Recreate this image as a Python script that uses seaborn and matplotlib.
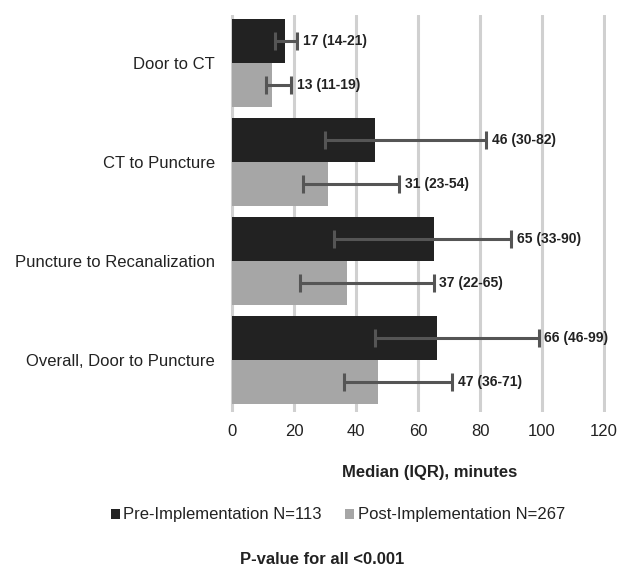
import matplotlib
matplotlib.use("Agg")
import matplotlib.pyplot as plt
import seaborn as sns
import pandas as pd

# ---- data ----
categories = ["Door to CT", "CT to Puncture", "Puncture to Recanalization", "Overall, Door to Puncture"]
groups = ["Pre-Implementation N=113", "Post-Implementation N=267"]
pre_median = [17, 46, 65, 66]
pre_low = [14, 30, 33, 46]
pre_high = [21, 82, 90, 99]
post_median = [13, 31, 37, 47]
post_low = [11, 23, 22, 36]
post_high = [19, 54, 65, 71]
x_ticks = [0, 20, 40, 60, 80, 100, 120]

medians = [pre_median, post_median]
lows = [pre_low, post_low]
highs = [pre_high, post_high]

df = pd.DataFrame({
    "Stage": categories * 2,
    "Median": pre_median + post_median,
    "Group": [groups[0]] * 4 + [groups[1]] * 4,
})

sns.set_style("white")
plt.rcParams["font.family"] = ["Liberation Sans", "DejaVu Sans"]

W, H = 619, 568
fig = plt.figure(figsize=(W / 100, H / 100), dpi=100)
x0, x1 = 230.2, 605.9
y_top, y_bot = 15, 412
ax = fig.add_axes([x0 / W, 1 - y_bot / H, (x1 - x0) / W, (y_bot - y_top) / H])

dark = "#222222"
light = "#a6a6a6"
sns.barplot(data=df, y="Stage", x="Median", hue="Group", orient="h",
            palette=[dark, light], width=0.89, errorbar=None, ax=ax,
            saturation=1, linewidth=0)

handles, labels = ax.get_legend_handles_labels()
if ax.get_legend() is not None:
    ax.get_legend().remove()

bar_containers = list(ax.containers)
err_color = "#555555"
for gi, cont in enumerate(bar_containers):
    for bi, bar in enumerate(cont.patches):
        yc = bar.get_y() + bar.get_height() / 2
        med = medians[gi][bi]
        lo = lows[gi][bi]
        hi = highs[gi][bi]
        ax.errorbar(med, yc, xerr=[[med - lo], [hi - med]], fmt="none",
                    ecolor=err_color, elinewidth=2.2, capsize=6.2, capthick=2.2, zorder=4)
        ax.annotate(f"{med} ({lo}-{hi})", xy=(hi, yc), xytext=(4, 0),
                    textcoords="offset points", ha="left", va="center",
                    fontsize=10, fontweight="bold", color="#222222")

ax.set_xlim(-0.6, 120.6)
ax.set_ylim(3.525, -0.485)
ax.set_xticks(x_ticks)
ax.set_xticklabels([str(t) for t in x_ticks])
ax.xaxis.grid(True, color="#d0d0d0", linewidth=2.2)
ax.yaxis.grid(False)
ax.set_axisbelow(True)
for s in ax.spines.values():
    s.set_visible(False)
ax.tick_params(axis="x", length=0, pad=9, labelsize=12, labelcolor="#222222")
ax.tick_params(axis="y", length=0, pad=11, labelsize=12, labelcolor="#222222")
ax.set_ylabel("")
ax.set_xlabel("Median (IQR), minutes", fontsize=12, fontweight="bold", color="#222222")
ax.xaxis.set_label_coords((430 - x0) / (x1 - x0), (y_bot - 472) / (y_bot - y_top))
ax.xaxis.label.set_va("center")

fig.legend(handles, labels, loc="center", bbox_to_anchor=(338 / W, 1 - 515 / H),
           ncol=2, frameon=False, handlelength=0.55, handleheight=0.55,
           handletextpad=0.2, columnspacing=1.4, fontsize=12,
           labelcolor="#222222")

fig.text(322 / W, 1 - 559 / H, "P-value for all <0.001", ha="center", va="center",
         fontsize=12, fontweight="bold", color="#222222")

fig.savefig("out.png", dpi=100, facecolor="white")
